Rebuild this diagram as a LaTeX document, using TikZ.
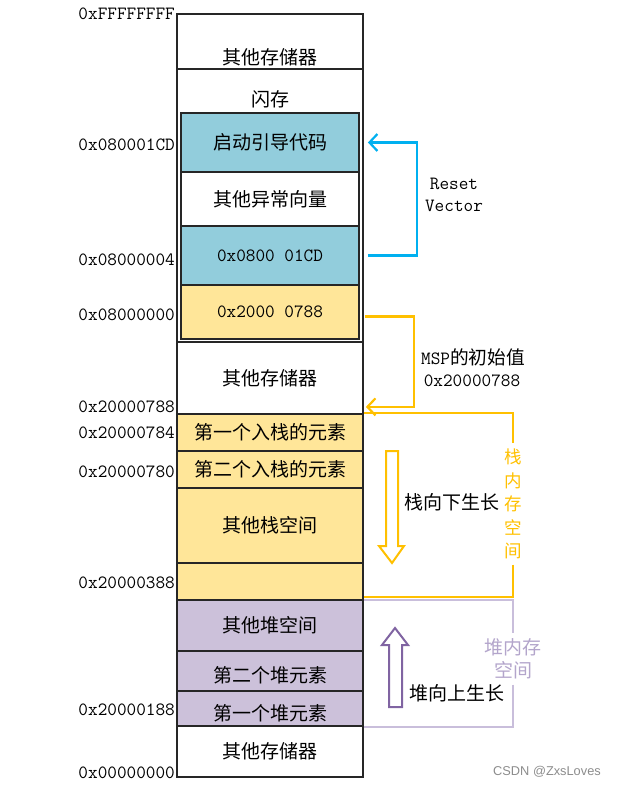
\documentclass[tikz,border=0pt]{standalone}
\usepackage{fontspec}
\setmainfont{Liberation Serif}
\newfontfamily\cjk{Noto Sans CJK SC}
\newfontfamily\wmfont{Liberation Sans}
\usetikzlibrary{arrows.meta}

\definecolor{vecblue}{HTML}{92CDDC}
\definecolor{stackyellow}{HTML}{FFE699}
\definecolor{heappurple}{HTML}{CCC1DA}
\definecolor{resetcyan}{HTML}{00B0F0}
\definecolor{mspgold}{HTML}{FFC000}
\definecolor{heapdark}{HTML}{8064A2}
\definecolor{heaplight}{HTML}{C9BEDB}
\definecolor{heaptext}{HTML}{B3A5CB}

\begin{document}
\begin{tikzpicture}[x=1pt,y=-1pt,
  cell/.style={draw=black!85,line width=1.8pt,minimum width=186pt,inner sep=0pt,
    font=\cjk\fontsize{19}{19}\selectfont},
  inner/.style={cell,minimum width=178pt},
  hex/.style={font=\ttfamily\fontsize{18.7}{18.7}\selectfont},
  addr/.style={hex,anchor=east,inner sep=0pt},
  every label/.style={font=\cjk\fontsize{19}{19}\selectfont,inner sep=0pt},
  cjktext/.style={font=\cjk\fontsize{19}{19}\selectfont,inner sep=0pt},
  resetarrow/.style={draw=resetcyan,line width=2.2pt,-{Straight Barb[length=8pt,width=17pt]}},
  msparrow/.style={draw=mspgold,line width=2.2pt,-{Straight Barb[length=8pt,width=17pt]}},
  stackbrk/.style={draw=mspgold,line width=2.2pt},
  heapbrk/.style={draw=heaplight,line width=2pt},
  brktext/.style={align=center,inner sep=0pt,font=\cjk\fontsize{17.5}{23.5}\selectfont}]
\useasboundingbox (0,0) rectangle (616,786);

\node[cell,minimum height=55pt,label={[yshift=-15.5pt]center:其他存储器}] (other1) at (270,41.5) {};
\node[cell,minimum height=273pt,label={[yshift=106.5pt]center:闪存}] (flash) at (270,205.5) {};
\node[inner,fill=vecblue,minimum height=59pt] (boot) at (270,142.5) {启动引导代码};
\node[inner,fill=white,minimum height=54pt] (othervec) at (270,199) {其他异常向量};
\node[inner,fill=vecblue,minimum height=59pt,hex] (rv) at (270,255.5) {0x0800 01CD};
\node[inner,fill=stackyellow,minimum height=54pt,hex] (msp) at (270,312) {0x2000 0788};
\node[cell,minimum height=72pt] (other2) at (270,378) {其他存储器};
\node[cell,fill=stackyellow,minimum height=37pt] (stk1) at (270,432.5) {第一个入栈的元素};
\node[cell,fill=stackyellow,minimum height=37pt] (stk2) at (270,469.5) {第二个入栈的元素};
\node[cell,fill=stackyellow,minimum height=75pt] (stkother) at (270,525.5) {其他栈空间};
\node[cell,fill=stackyellow,minimum height=37pt] (stkend) at (270,581.5) {};
\node[cell,fill=heappurple,minimum height=51pt] (heapother) at (270,625.5) {其他堆空间};
\node[cell,fill=heappurple,minimum height=40pt,label={[yshift=-4pt]center:第二个堆元素}] (heap2) at (270,671) {};
\node[cell,fill=heappurple,minimum height=35pt,label={[yshift=-4.5pt]center:第一个堆元素}] (heap1) at (270,708.5) {};
\node[cell,minimum height=51pt] (other3) at (270,751.5) {其他存储器};

\node[addr] (aFFFF) at (175,14) {0xFFFFFFFF};
\node[addr] (a01CD) at (175,145) {0x080001CD};
\node[addr] (a0004) at (175,260) {0x08000004};
\node[addr] (a0000) at (175,315) {0x08000000};
\node[addr] (a0788) at (175,407) {0x20000788};
\node[addr] (a0784) at (175,433) {0x20000784};
\node[addr] (a0780) at (175,472) {0x20000780};
\node[addr] (a0388) at (175,583) {0x20000388};
\node[addr] (a0188) at (175,710) {0x20000188};
\node[addr] (azero) at (175,773) {0x00000000};

\draw[resetarrow] ([xshift=8pt]rv.east) -- ++(49,0) |- ([xshift=8pt]boot.east);
\node[hex,align=center,inner sep=0pt] (rvtext) at (454,195) {Reset\\[4pt]Vector};

\draw[msparrow] ([xshift=5pt,yshift=-4.5pt]msp.east) -- ++(49,0) |- ([xshift=2pt,yshift=8pt]other2.south east);
\node[hex,inner sep=0pt] (msptext) at (473,357) {MSP{\cjk 的初始值}};
\node[hex,inner sep=0pt] (mspval) at (472,381) {0x20000788};

\node[brktext,text=mspgold,minimum height=121pt] (stkbrk) at (513,504) {栈\\内\\存\\空\\间};
\draw[stackbrk] (stk1.north east) -| (stkbrk.north);
\draw[stackbrk] (stkbrk.south) |- ([yshift=4pt]stkend.south east);

\node[brktext,text=heaptext,font=\cjk\fontsize{19}{22.5}\selectfont,minimum height=51pt] (heapbrk) at (513,659) {堆内存\\空间};
\draw[heapbrk] ([yshift=-1pt]heapother.north east) -| (heapbrk.north);
\draw[heapbrk] (heapbrk.south) |- (heap1.south east);

\draw[mspgold,line width=2pt,fill=white] (386,451) -- (398,451) -- (398,546) -- (404,546) -- (392,563) -- (379,546) -- (386,546) -- cycle;
\node[cjktext] (growdown) at (452,502) {栈向下生长};

\draw[heapdark,line width=2pt,fill=white] (389,707) -- (402,707) -- (402,645) -- (408,645) -- (395,628) -- (382,645) -- (389,645) -- cycle;
\node[cjktext] (growup) at (457,693) {堆向上生长};

\node[font=\wmfont\fontsize{12.8}{12.8}\selectfont,text=black!45,inner sep=0pt] (csdn) at (547,772) {CSDN @ZxsLoves};
\end{tikzpicture}
\end{document}
